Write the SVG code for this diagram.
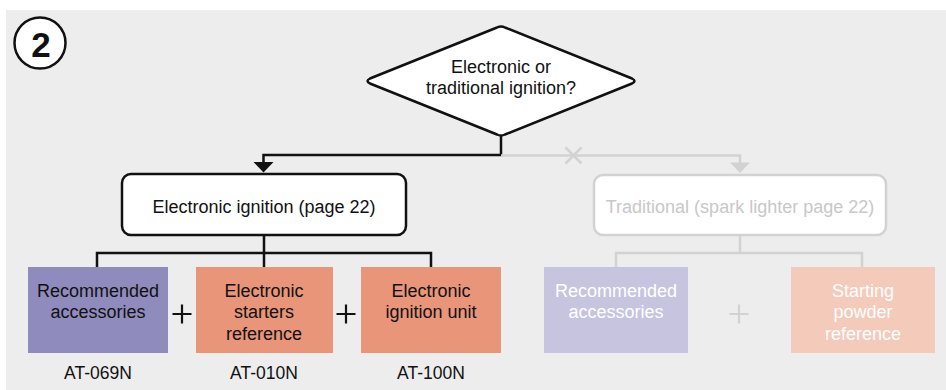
<svg xmlns="http://www.w3.org/2000/svg" width="946" height="390" viewBox="0 0 946 390">
<defs>
<style>
text{font-family:"Liberation Sans",Arial,sans-serif;text-anchor:middle}
.t{font-size:18px;fill:#111}
.b{font-size:18px;fill:#111}
.c{font-size:17.5px;fill:#111}
.w{font-size:18px;fill:#fff}
.g{font-size:18px;fill:#c8c8c8}
.blk{fill:none;stroke:#111;stroke-width:2.5}
.gry{fill:none;stroke:#d2d2d2;stroke-width:2.5}
</style>
</defs>
<rect x="6" y="10" width="940" height="380" fill="#ededed"/>
<g id="badge">
<circle cx="40" cy="43" r="25.5" fill="#fff" stroke="#111" stroke-width="2.5"/>
<text x="41" y="56.5" style="font-size:35px;font-weight:bold;fill:#111">2</text>
</g>
<g id="connectors">
<path class="blk" d="M501 136V155H263.5V163"/>
<polygon points="253.5,162 273.5,162 263.5,172.5" fill="#111"/>
<path class="blk" d="M264 235V253M97 268V253H431V268M264 253V268"/>
<path class="gry" d="M501 155.5H740V163"/>
<polygon points="730,162.5 750,162.5 740,173" fill="#d2d2d2"/>
<path class="gry" d="M565.5 147.5L581.5 163.5M581.5 147.5L565.5 163.5"/>
<path class="gry" d="M740 235V253M616 268V253H862V268"/>
</g>
<g id="decision">
<path d="M497 27.5Q501 25.5 505 27.5L632 78.5Q637 81 632 83.5L505 134.5Q501 136.5 497 134.5L370 83.5Q365 81 370 78.5Z" fill="#fff" stroke="#111" stroke-width="2.5"/>
<text class="t" x="501" y="72.5">Electronic or</text>
<text class="t" x="501" y="94">traditional ignition?</text>
</g>
<g id="electronic">
<rect x="122" y="174" width="284" height="61" rx="9" fill="#fff" stroke="#111" stroke-width="2.5"/>
<text class="t" x="264" y="213">Electronic ignition (page 22)</text>
</g>
<g id="traditional">
<rect x="594" y="175" width="292" height="60" rx="9" fill="#fff" stroke="#d2d2d2" stroke-width="2.5"/>
<text class="g" x="740" y="213">Traditional (spark lighter page 22)</text>
</g>
<g id="acc1">
<rect x="28" y="267" width="140" height="86" fill="#908bbd"/>
<text class="b" x="98" y="296.5">Recommended</text>
<text class="b" x="98" y="318">accessories</text>
<text class="c" x="98" y="379">AT-069N</text>
</g>
<g id="starters">
<rect x="196" y="267" width="137" height="86" fill="#e8957a"/>
<text class="b" x="264" y="296.5">Electronic</text>
<text class="b" x="264" y="318">starters</text>
<text class="b" x="264" y="340">reference</text>
<text class="c" x="264" y="379">AT-010N</text>
</g>
<g id="unit">
<rect x="361" y="267" width="140" height="86" fill="#e8957a"/>
<text class="b" x="431" y="296.5">Electronic</text>
<text class="b" x="431" y="318">ignition unit</text>
<text class="c" x="431" y="379">AT-100N</text>
</g>
<g id="plus1"><path d="M172.5 314H191.5M182 304.5V323.5" stroke="#111" stroke-width="2.2"/></g>
<g id="plus2"><path d="M336.5 314H355.5M346 304.5V323.5" stroke="#111" stroke-width="2.2"/></g>
<g id="acc2">
<rect x="544" y="267" width="144" height="86" fill="#c7c4e0"/>
<text class="w" x="616" y="296.5">Recommended</text>
<text class="w" x="616" y="318">accessories</text>
</g>
<g id="plus3"><path d="M729.5 314H748.5M739 304.5V323.5" stroke="#d2d2d2" stroke-width="2.2"/></g>
<g id="powder">
<rect x="791" y="267" width="144" height="86" fill="#f4cbba"/>
<text class="w" x="863" y="296.5">Starting</text>
<text class="w" x="863" y="318">powder</text>
<text class="w" x="863" y="340">reference</text>
</g>
</svg>
